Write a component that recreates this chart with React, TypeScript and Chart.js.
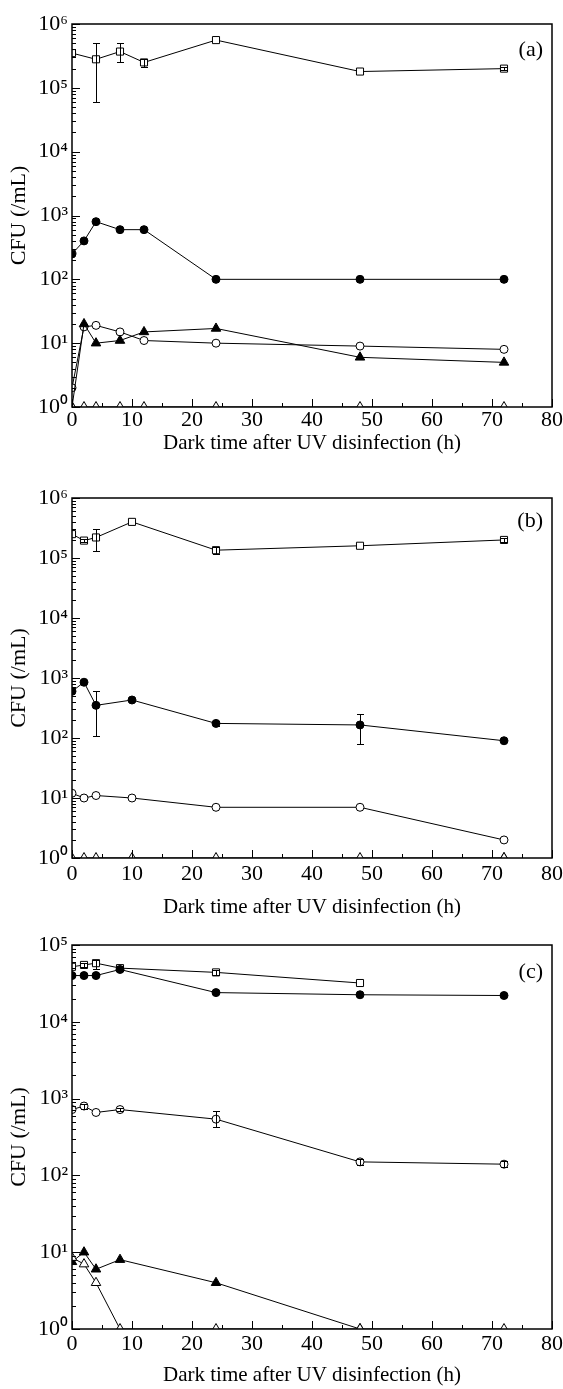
import React, { useEffect, useRef } from 'react';
import { Chart, registerables } from 'chart.js';
Chart.register(...registerables);

const FONT = '"Liberation Serif", "Times New Roman", serif';

// x ticks (hours)
const X_TICKS = [0, 10, 20, 30, 40, 50, 60, 70, 80];
const X_TITLE = 'Dark time after UV disinfection (h)';
const Y_TITLE = 'CFU (/mL)';
const PANEL_LABELS = ['(a)', '(b)', '(c)'];

// ---------- Panel (a) ----------
const A_SQ_X = [0, 4, 8, 12, 24, 48, 72];
const A_SQ_Y = [350000, 280000, 370000, 250000, 560000, 180000, 200000];
const A_SQ_LO = [null, 60000, 250000, 215000, null, null, 188000];
const A_SQ_HI = [null, 500000, 500000, 285000, null, null, 213000];
const A_FC_X = [0, 2, 4, 8, 12, 24, 48, 72];
const A_FC_Y = [250, 400, 800, 600, 600, 100, 100, 100];
const A_OC_X = [0, 2, 4, 8, 12, 24, 48, 72];
const A_OC_Y = [2, 18, 19, 15, 11, 10, 9, 8];
const A_FT_X = [0, 2, 4, 8, 12, 24, 48, 72];
const A_FT_Y = [1, 20, 10, 11, 15, 17, 6, 5];
const A_OT_X = [0, 2, 4, 8, 12, 24, 48, 72];
const A_OT_Y = [1, 1, 1, 1, 1, 1, 1, 1];

// ---------- Panel (b) ----------
const B_SQ_X = [0, 2, 4, 10, 24, 48, 72];
const B_SQ_Y = [250000, 195000, 220000, 400000, 135000, 160000, 200000];
const B_SQ_LO = [null, 185000, 130000, null, 118000, null, 188000];
const B_SQ_HI = [null, 205000, 300000, null, 150000, null, 212000];
const B_FC_X = [0, 2, 4, 10, 24, 48, 72];
const B_FC_Y = [600, 850, 350, 430, 175, 165, 90];
const B_FC_LO = [null, null, 110, null, 160, 80, null];
const B_FC_HI = [null, null, 600, null, 195, 250, null];
const B_OC_X = [0, 2, 4, 10, 24, 48, 72];
const B_OC_Y = [12, 10, 11, 10, 7, 7, 2];
const B_FT_X = [72];
const B_FT_Y = [1];
const B_OT_X = [0, 2, 4, 10, 24, 48, 72];
const B_OT_Y = [1, 1, 1, 1, 1, 1, 1];

// ---------- Panel (c) ----------
const C_SQ_X = [0, 2, 4, 8, 24, 48];
const C_SQ_Y = [52000, 55000, 58000, 50000, 44000, 32000];
const C_SQ_LO = [null, 51000, 49000, 46000, 41000, null];
const C_SQ_HI = [null, 59000, 64000, 54000, 47000, null];
const C_FC_X = [0, 2, 4, 8, 24, 48, 72];
const C_FC_Y = [40000, 40000, 40000, 48000, 24000, 22500, 22000];
const C_OC_X = [0, 2, 4, 8, 24, 48, 72];
const C_OC_Y = [720, 800, 660, 720, 540, 150, 140];
const C_OC_LO = [null, 740, null, 680, 430, 138, 128];
const C_OC_HI = [null, 860, null, 760, 680, 162, 152];
const C_FT_X = [0, 2, 4, 8, 24, 48];
const C_FT_Y = [7.5, 10, 6, 8, 4, 1];
const C_OT_X = [0, 2, 4, 8, 24, 48, 72];
const C_OT_Y = [8.5, 7, 4, 1, 1, 1, 1];

type Series = {
  x: number[];
  y: number[];
  lo?: (number | null)[];
  hi?: (number | null)[];
  style: string;
  filled: boolean;
  r: number;
};

const sq = (x: number[], y: number[], lo?: any[], hi?: any[]): Series => ({ x, y, lo, hi, style: 'rect', filled: false, r: 5 });
const fc = (x: number[], y: number[], lo?: any[], hi?: any[]): Series => ({ x, y, lo, hi, style: 'circle', filled: true, r: 4 });
const oc = (x: number[], y: number[], lo?: any[], hi?: any[]): Series => ({ x, y, lo, hi, style: 'circle', filled: false, r: 4 });
const ft = (x: number[], y: number[]): Series => ({ x, y, style: 'triangle', filled: true, r: 5.5 });
const ot = (x: number[], y: number[]): Series => ({ x, y, style: 'triangle', filled: false, r: 5.5 });

const PANELS = [
  {
    top: 0, height: 460, padTop: 24, xAxisH: 53, yMaxExp: 6, label: PANEL_LABELS[0], labelDy: 26,
    xTickPad: 0, xTitlePadB: 4,
    series: [ot(A_OT_X, A_OT_Y), ft(A_FT_X, A_FT_Y), oc(A_OC_X, A_OC_Y), fc(A_FC_X, A_FC_Y), sq(A_SQ_X, A_SQ_Y, A_SQ_LO, A_SQ_HI)],
  },
  {
    top: 460, height: 460, padTop: 38, xAxisH: 62, yMaxExp: 6, label: PANEL_LABELS[1], labelDy: 23,
    xTickPad: 3, xTitlePadB: 0,
    series: [ot(B_OT_X, B_OT_Y), ft(B_FT_X, B_FT_Y), oc(B_OC_X, B_OC_Y), fc(B_FC_X, B_FC_Y, B_FC_LO, B_FC_HI), sq(B_SQ_X, B_SQ_Y, B_SQ_LO, B_SQ_HI)],
  },
  {
    top: 920, height: 469, padTop: 25, xAxisH: 60, yMaxExp: 5, label: PANEL_LABELS[2], labelDy: 27,
    xTickPad: 2, xTitlePadB: 1,
    series: [ot(C_OT_X, C_OT_Y), ft(C_FT_X, C_FT_Y), oc(C_OC_X, C_OC_Y, C_OC_LO, C_OC_HI), fc(C_FC_X, C_FC_Y), sq(C_SQ_X, C_SQ_Y, C_SQ_LO, C_SQ_HI)],
  },
];

const SUP: Record<string, string> = { '0': '⁰', '1': '¹', '2': '²', '3': '³', '4': '⁴', '5': '⁵', '6': '⁶' };

function Panel({ cfg }: { cfg: any }) {
  const ref = useRef<HTMLCanvasElement>(null);
  useEffect(() => {
    const series: Series[] = cfg.series;
    const decor = {
      id: 'decor',
      afterDatasetsDraw(chart: any) {
        const { ctx, chartArea: ca, scales } = chart;
        const xs = scales.x;
        const ys = scales.y;
        ctx.save();
        // error bars
        ctx.beginPath();
        ctx.rect(ca.left, ca.top, ca.right - ca.left, ca.bottom - ca.top);
        ctx.clip();
        ctx.strokeStyle = '#000';
        ctx.lineWidth = 1;
        series.forEach((s) => {
          if (!s.lo || !s.hi) return;
          s.x.forEach((xv, i) => {
            const lo = s.lo![i];
            const hi = s.hi![i];
            if (lo == null || hi == null) return;
            const px = Math.round(xs.getPixelForValue(xv)) + 0.5;
            const y1 = Math.round(ys.getPixelForValue(hi)) + 0.5;
            const y2 = Math.round(ys.getPixelForValue(lo)) + 0.5;
            ctx.beginPath();
            ctx.moveTo(px, y1); ctx.lineTo(px, y2);
            ctx.moveTo(px - 3.5, y1); ctx.lineTo(px + 3.5, y1);
            ctx.moveTo(px - 3.5, y2); ctx.lineTo(px + 3.5, y2);
            ctx.stroke();
          });
        });
        ctx.restore();
        ctx.save();
        ctx.strokeStyle = '#000';
        ctx.lineWidth = 1;
        // y ticks (inward)
        ctx.beginPath();
        for (let d = 0; d <= cfg.yMaxExp; d++) {
          const py = Math.round(ys.getPixelForValue(Math.pow(10, d))) + 0.5;
          ctx.moveTo(ca.left, py); ctx.lineTo(ca.left + 8, py);
          if (d < cfg.yMaxExp) {
            for (let k = 2; k <= 9; k++) {
              const pm = Math.round(ys.getPixelForValue(k * Math.pow(10, d))) + 0.5;
              ctx.moveTo(ca.left, pm); ctx.lineTo(ca.left + 4, pm);
            }
          }
        }
        // x ticks (inward)
        for (let v = 0; v <= 80; v += 5) {
          const px = Math.round(xs.getPixelForValue(v)) + 0.5;
          const len = v % 10 === 0 ? 8 : 4;
          ctx.moveTo(px, ca.bottom); ctx.lineTo(px, ca.bottom - len);
        }
        ctx.stroke();
        // frame
        ctx.lineWidth = 1.5;
        ctx.strokeRect(ca.left, ca.top, ca.right - ca.left, ca.bottom - ca.top);
        // panel label
        ctx.fillStyle = '#000';
        ctx.font = `22px ${FONT}`;
        ctx.textAlign = 'right';
        ctx.textBaseline = 'middle';
        ctx.fillText(cfg.label, ca.right - 9, ca.top + cfg.labelDy);
        ctx.restore();
      },
    };

    const datasets = series.map((s) => ({
      data: s.x.map((xv, i) => ({ x: xv, y: s.y[i] })),
      borderColor: '#000',
      borderWidth: 1,
      pointStyle: s.style,
      pointRadius: s.r,
      pointHoverRadius: s.r,
      pointBackgroundColor: s.filled ? '#000' : '#fff',
      pointBorderColor: '#000',
      pointBorderWidth: 1,
      tension: 0,
      fill: false,
      clip: 0,
    }));

    const chart = new Chart(ref.current!, {
      type: 'line',
      data: { datasets },
      options: {
        animation: false,
        responsive: false,
        devicePixelRatio: 1,
        events: [],
        layout: { padding: { top: cfg.padTop, right: 11, bottom: 0, left: 0 } },
        plugins: { legend: { display: false }, tooltip: { enabled: false } },
        scales: {
          x: {
            type: 'linear',
            min: 0,
            max: 80,
            afterBuildTicks: (scale: any) => {
              scale.ticks = X_TICKS.map((v) => ({ value: v }));
            },
            afterFit: (scale: any) => {
              scale.height = cfg.xAxisH;
              scale.paddingLeft = 0;
              scale.paddingRight = 0;
            },
            grid: { display: false, drawTicks: false },
            border: { display: false },
            ticks: {
              color: '#000',
              font: { family: FONT, size: 22 },
              padding: cfg.xTickPad,
              maxRotation: 0,
              autoSkip: false,
            },
            title: {
              display: true,
              text: X_TITLE,
              color: '#000',
              font: { family: FONT, size: 21 },
              padding: { top: 0, bottom: cfg.xTitlePadB },
            },
          },
          y: {
            type: 'logarithmic',
            min: 1,
            max: Math.pow(10, cfg.yMaxExp),
            afterFit: (scale: any) => {
              scale.width = 72;
              scale.paddingTop = 0;
              scale.paddingBottom = 0;
            },
            grid: { display: false, drawTicks: false },
            border: { display: false },
            ticks: {
              color: '#000',
              font: { family: FONT, size: 22 },
              padding: 4,
              autoSkip: false,
              callback: (v: any) => {
                const e = Math.log10(Number(v));
                const r = Math.round(e);
                if (Math.abs(e - r) < 1e-9) return '10' + SUP[String(r)];
                return '';
              },
            },
            title: {
              display: true,
              text: Y_TITLE,
              color: '#000',
              font: { family: FONT, size: 22 },
              padding: { top: 6, bottom: 0 },
            },
          },
        },
      },
      plugins: [decor],
    } as any);
    return () => chart.destroy();
  }, []);
  return (
    <canvas
      ref={ref}
      width={563}
      height={cfg.height}
      style={{ position: 'absolute', left: 0, top: cfg.top, width: 563, height: cfg.height }}
    />
  );
}

export default function App() {
  return (
    <div style={{ position: 'absolute', left: 0, top: 0, width: 563, height: 1389, background: '#fff' }}>
      {PANELS.map((p, i) => (
        <Panel key={i} cfg={p} />
      ))}
    </div>
  );
}
